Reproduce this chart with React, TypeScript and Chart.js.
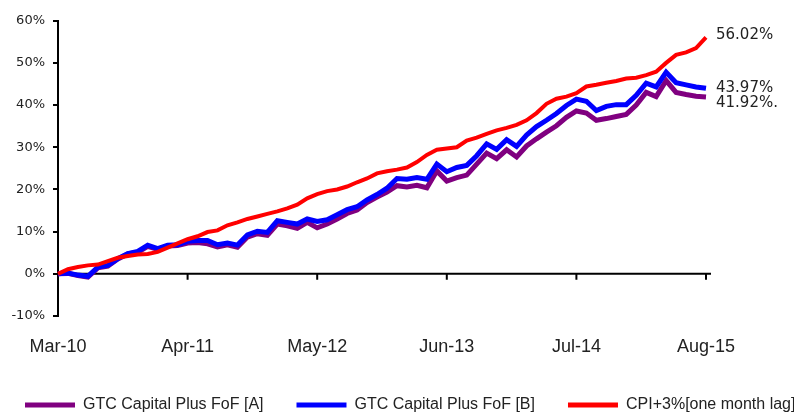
import { useEffect, useRef } from 'react';
import { Chart, registerables } from 'chart.js';

Chart.register(...registerables);

const categories = [
  'Mar-10', 'Apr-10', 'May-10', 'Jun-10', 'Jul-10', 'Aug-10', 'Sep-10', 'Oct-10', 'Nov-10', 'Dec-10',
  'Jan-11', 'Feb-11', 'Mar-11', 'Apr-11', 'May-11', 'Jun-11', 'Jul-11', 'Aug-11', 'Sep-11', 'Oct-11', 'Nov-11', 'Dec-11',
  'Jan-12', 'Feb-12', 'Mar-12', 'Apr-12', 'May-12', 'Jun-12', 'Jul-12', 'Aug-12', 'Sep-12', 'Oct-12', 'Nov-12', 'Dec-12',
  'Jan-13', 'Feb-13', 'Mar-13', 'Apr-13', 'May-13', 'Jun-13', 'Jul-13', 'Aug-13', 'Sep-13', 'Oct-13', 'Nov-13', 'Dec-13',
  'Jan-14', 'Feb-14', 'Mar-14', 'Apr-14', 'May-14', 'Jun-14', 'Jul-14', 'Aug-14', 'Sep-14', 'Oct-14', 'Nov-14', 'Dec-14',
  'Jan-15', 'Feb-15', 'Mar-15', 'Apr-15', 'May-15', 'Jun-15', 'Jul-15', 'Aug-15',
];

const tickLabels = ['Mar-10', 'Apr-11', 'May-12', 'Jun-13', 'Jul-14', 'Aug-15'];

const seriesNames = ['GTC Capital Plus FoF [A]', 'GTC Capital Plus FoF [B]', 'CPI+3%[one month lag]'];

const fundA = [
  0, 0.1, -0.4, -0.8, 1.4, 1.8, 3.5, 4.7, 5.1, 6.5,
  5.8, 6.6, 6.7, 7.3, 7.4, 7.1, 6.4, 6.9, 6.3, 8.7, 9.5, 9.1,
  11.8, 11.4, 10.8, 12.2, 10.9, 11.8, 13.0, 14.3, 15.1, 16.9, 18.2, 19.4,
  20.9, 20.6, 21.0, 20.4, 24.4, 22.0, 22.8, 23.4, 26.0, 28.6, 27.3, 29.4,
  27.7, 30.3, 32.0, 33.6, 35.1, 37.1, 38.6, 38.1, 36.4, 36.8, 37.3, 37.8,
  40.0, 43.0, 42.0, 45.8, 43.0, 42.5, 42.1, 41.92,
];

const fundB = [
  0, 0.2, -0.3, -0.6, 1.6, 2.0, 3.6, 4.8, 5.3, 6.8,
  6.0, 6.8, 6.9, 7.7, 7.9, 7.9, 6.9, 7.3, 6.8, 9.2, 10.1, 9.8,
  12.6, 12.2, 11.8, 13.0, 12.4, 12.8, 14.0, 15.2, 15.9, 17.5, 18.8, 20.3,
  22.6, 22.4, 22.8, 22.4, 26.0, 24.2, 25.2, 25.7, 28.0, 30.8, 29.5, 31.8,
  30.2, 32.9, 34.9, 36.4, 38.0, 39.9, 41.4, 40.9, 38.7, 39.7, 40.1, 40.1,
  42.3, 45.2, 44.3, 47.8, 45.3, 44.8, 44.3, 43.97,
];

const cpiPlus3 = [
  0, 1.1, 1.6, 2.0, 2.2, 3.0, 3.8, 4.2, 4.6, 4.7,
  5.2, 6.2, 7.2, 8.2, 8.9, 9.9, 10.3, 11.5, 12.2, 13.0, 13.6, 14.2,
  14.8, 15.5, 16.4, 17.9, 18.9, 19.6, 20.0, 20.7, 21.7, 22.6, 23.8, 24.3,
  24.7, 25.2, 26.5, 28.2, 29.4, 29.7, 30.0, 31.6, 32.3, 33.2, 34.0, 34.6,
  35.3, 36.4, 38.1, 40.3, 41.5, 42.0, 42.8, 44.4, 44.8, 45.3, 45.7, 46.3,
  46.5, 47.1, 47.9, 50.0, 51.9, 52.5, 53.5, 56.02,
];

const endLabels = ['41.92%.', '43.97%', '56.02%'];

const colors = ['#800080', '#0000ff', '#ff0000'];
const lineWidths = [5, 5, 4];
const endLabelDy = [6, 0, -2];

const zeroAxisPlugin = {
  id: 'zeroAxis',
  beforeDatasetsDraw(chart: any) {
    const { ctx, chartArea, scales } = chart;
    const xs = scales.x;
    const ys = scales.y;
    const y0 = ys.getPixelForValue(0);
    ctx.save();
    ctx.strokeStyle = '#000';
    ctx.lineWidth = 2;
    ctx.beginPath();
    ctx.moveTo(chartArea.left, y0);
    ctx.lineTo(chartArea.right + 5, y0);
    categories.forEach((c, i) => {
      if (tickLabels.includes(c)) {
        const px = xs.getPixelForValue(i);
        ctx.moveTo(px, y0);
        ctx.lineTo(px, y0 + 6);
      }
    });
    ctx.stroke();
    ctx.restore();
  },
};

const endLabelPlugin = {
  id: 'endLabels',
  afterDatasetsDraw(chart: any) {
    const { ctx } = chart;
    ctx.save();
    ctx.font = '15px "DejaVu Sans"';
    ctx.fillStyle = '#222';
    ctx.textAlign = 'left';
    ctx.textBaseline = 'middle';
    chart.data.datasets.forEach((_ds: any, di: number) => {
      const meta = chart.getDatasetMeta(di);
      const pt = meta.data[meta.data.length - 1];
      if (!pt) return;
      ctx.fillText(endLabels[di], pt.x + 10, pt.y + endLabelDy[di]);
    });
    ctx.restore();
  },
};

export default function App() {
  const canvasRef = useRef<HTMLCanvasElement | null>(null);

  useEffect(() => {
    const canvas = canvasRef.current;
    if (!canvas) return;
    const series = [fundA, fundB, cpiPlus3];
    const chart = new Chart(canvas, {
      type: 'line',
      data: {
        labels: categories,
        datasets: series.map((d, i) => ({
          label: seriesNames[i],
          data: d,
          borderColor: colors[i],
          backgroundColor: colors[i],
          borderWidth: lineWidths[i],
          pointRadius: 0,
          tension: 0,
          fill: false,
          order: 3 - i,
        })),
      },
      options: {
        responsive: false,
        maintainAspectRatio: false,
        animation: false,
        layout: { padding: { left: 0, right: 0, top: 20.7, bottom: 0 } },
        scales: {
          x: {
            ticks: {
              autoSkip: false,
              maxRotation: 0,
              minRotation: 0,
              padding: 20,
              color: '#222',
              font: { family: '"Liberation Sans", Arial, sans-serif', size: 18 },
              callback: (_v: any, i: number) => (tickLabels.includes(categories[i]) ? categories[i] : null),
            },
            grid: { display: false, drawTicks: false },
            border: { display: false },
            afterFit: (s: any) => {
              s.height = 48;
            },
          },
          y: {
            min: -10,
            max: 60,
            ticks: {
              stepSize: 10,
              padding: 8,
              color: '#222',
              font: { family: '"DejaVu Sans", sans-serif', size: 13 },
              callback: (v: any) => v + '%',
            },
            grid: { drawOnChartArea: false, drawTicks: true, tickLength: 5, color: '#000', lineWidth: 2 },
            border: { display: true, color: '#000', width: 2 },
            afterFit: (s: any) => {
              s.width = 66;
            },
          },
          yRight: {
            type: 'linear',
            position: 'right',
            min: -10,
            max: 60,
            ticks: { display: false },
            grid: { display: false, drawTicks: false },
            border: { display: false },
            afterFit: (s: any) => {
              s.width = 136;
            },
          },
        },
        plugins: {
          tooltip: { enabled: false },
          legend: {
            position: 'bottom',
            align: 'start',
            labels: {
              boxWidth: 50,
              boxHeight: 5,
              padding: 33,
              color: '#222',
              font: { family: '"Liberation Sans", Arial, sans-serif', size: 16 },
              generateLabels: (c: any) =>
                Chart.defaults.plugins.legend.labels
                  .generateLabels(c)
                  .map((l: any) => ({ ...l, lineWidth: 0, fillStyle: l.strokeStyle }))
                  .sort((a: any, b: any) => a.datasetIndex - b.datasetIndex),
            },
          },
        },
      },
      plugins: [zeroAxisPlugin, endLabelPlugin],
    });
    return () => chart.destroy();
  }, []);

  return (
    <div style={{ position: 'fixed', left: 0, top: 0, width: 794, height: 412, overflow: 'hidden', background: '#fff' }}>
      <canvas
        ref={canvasRef}
        width={850}
        height={423}
        style={{ position: 'absolute', left: -8, top: 0, display: 'block' }}
      />
    </div>
  );
}
